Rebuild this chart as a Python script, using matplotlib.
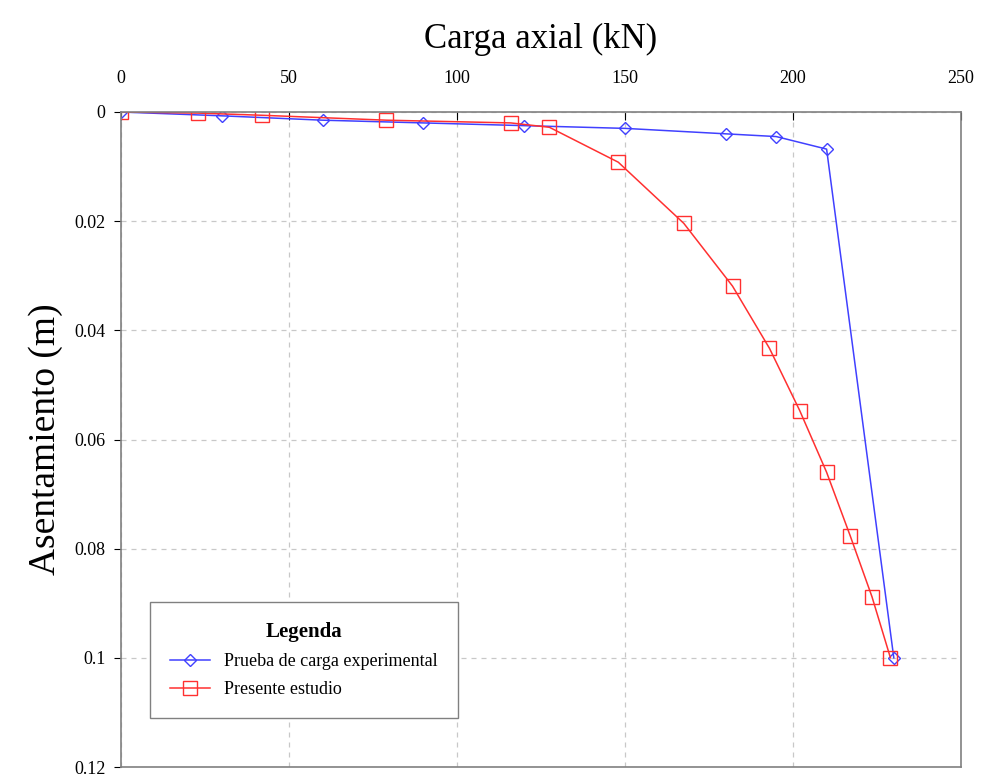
import numpy as np
import matplotlib.pyplot as plt

plt.rcParams['font.family'] = ['Liberation Serif', 'DejaVu Serif']

## Datos
carga_exp = [0, 30, 60, 90, 120, 150, 180, 195, 210, 230]
asent_exp = [0, 0.0007, 0.0015, 0.002, 0.0025, 0.003, 0.004, 0.0045, 0.0068, 0.1]

carga_est = [0, 23, 42, 79, 116, 127.5, 148, 167.5, 182, 193, 202, 210, 217, 223.5, 229]
asent_est = [0, 0.0002, 0.0006, 0.0015, 0.002, 0.0028, 0.0092, 0.0204, 0.0319,
             0.0433, 0.0547, 0.066, 0.0776, 0.0888, 0.1]

xticks = [0, 50, 100, 150, 200, 250]
yticks = [0, 0.02, 0.04, 0.06, 0.08, 0.1, 0.12]
ytick_labels = ['0', '0.02', '0.04', '0.06', '0.08', '0.1', '0.12']

fig = plt.figure(figsize=(9.82, 7.76), dpi=100)
ax = fig.add_axes([121/982, 9/776, 840/982, 655/776])

ax.plot(carga_exp, asent_exp, color='#4040ff', lw=1.1, marker='D', ms=6,
        mfc='none', mec='#4040ff', mew=1.0, label='Prueba de carga experimental')
ax.plot(carga_est, asent_est, color='#ff3030', lw=1.1, marker='s', ms=10,
        mfc='none', mec='#ff3030', mew=1.0, label='Presente estudio')

ax.set_xlim(0, 250)
ax.set_ylim(0.12, 0)
ax.xaxis.tick_top()
ax.xaxis.set_label_position('top')
ax.set_xticks(xticks)
ax.set_yticks(yticks)
ax.set_yticklabels(ytick_labels)
ax.tick_params(axis='x', direction='in', length=6, labelsize=13, pad=18)
ax.tick_params(axis='y', direction='out', length=5, labelsize=13, pad=6)
ax.grid(True, ls=(0, (4, 4)), color='#c8c8c8', lw=0.9)
for s in ax.spines.values():
	s.set_color('#808080')
	s.set_linewidth(1.2)

ax.set_xlabel('Carga axial (kN)', fontsize=25, labelpad=16)
ax.set_ylabel('Asentamiento (m)', fontsize=27, labelpad=8)

leg = ax.legend(title='Legenda', loc='lower left', bbox_to_anchor=(0.035, 0.075),
                borderaxespad=0, fontsize=13, title_fontproperties={'weight': 'bold', 'size': 15},
                fancybox=False, edgecolor='#808080', framealpha=1,
                borderpad=1.1, handlelength=2.2, labelspacing=0.6)
leg.get_frame().set_linewidth(1.0)

fig.savefig('out.png', dpi=100)
